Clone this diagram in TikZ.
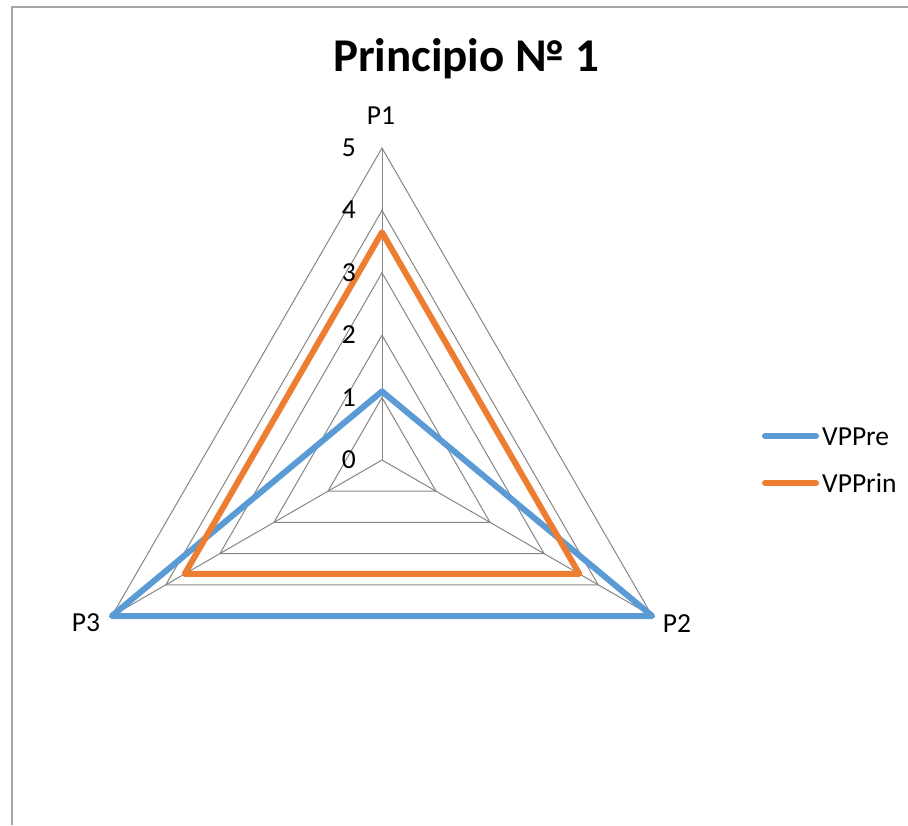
\documentclass[tikz,border=0pt]{standalone}
\usepackage{fontspec}
\setmainfont{Carlito}
\usetikzlibrary{calc}
\definecolor{gridc}{HTML}{868686}
\definecolor{framec}{HTML}{A6A6A6}
\definecolor{vpre}{HTML}{5B9BD5}
\definecolor{vprin}{HTML}{ED7D31}
\begin{document}
\begin{tikzpicture}[x=1pt,y=1pt,
  gridline/.style={draw=gridc,line width=1pt},
  frameline/.style={draw=framec,line width=1.6pt},
  series/.style={line width=6pt,line join=round,line cap=round},
  lbl/.style={font=\fontsize{27.5}{32}\selectfont,inner sep=0pt,anchor=base},
  numlbl/.style={font=\fontsize{27.5}{32}\selectfont,inner sep=0pt,anchor=base east},
  titlelbl/.style={font=\bfseries\fontsize{47}{56}\selectfont,inner sep=0pt,anchor=base}]
\useasboundingbox (0,0) rectangle (908,-825);
\fill[white] (0,0) rectangle (908,-825);
% frame (only left and top visible)
\coordinate (fbl) at (12,-825);
\coordinate (ftl) at (12,-7);
\coordinate (ftr) at (908,-7);
\draw[frameline] (fbl) -- (ftl) -- (ftr);
% title
\node[titlelbl] (title) at (466,-71) {Principio № 1};
\def\u{62.4}
\begin{scope}[shift={(382,-460)}]
  \coordinate (O) at (0,0);
  \coordinate (A1) at (90:5*\u);
  \coordinate (A2) at (-30:5*\u);
  \coordinate (A3) at (210:5*\u);
  \foreach \k in {1,...,5}{
    \draw[gridline] (90:\k*\u) -- (-30:\k*\u) -- (210:\k*\u) -- cycle;
  }
  \draw[gridline] (O) -- (A1);
  \draw[gridline] (O) -- (A2);
  \draw[gridline] (O) -- (A3);
  % series
  \coordinate (b1) at (90:1.1*\u);
  \coordinate (b2) at (-30:5*\u);
  \coordinate (b3) at (210:5*\u);
  \coordinate (o1) at (90:3.65*\u);
  \coordinate (o2) at (-30:3.65*\u);
  \coordinate (o3) at (210:3.65*\u);
  \draw[series,vpre] (b1) -- (b2) -- (b3) -- cycle;
  \draw[series,vprin] (o1) -- (o2) -- (o3) -- cycle;
\end{scope}
% axis value labels
\foreach \k in {0,...,5}{
  \node[numlbl] (n\k) at (356,{-(460-\k*\u+8.5)}) {\k};
}
% axis names
\node[lbl] (p1) at (381,-124) {P1};
\node[lbl] (p2) at (677,-632) {P2};
\node[lbl] (p3) at (86,-631) {P3};
% legend
\coordinate (l1a) at (765,-436);
\coordinate (l1b) at (816,-436);
\coordinate (l2a) at (765,-483);
\coordinate (l2b) at (816,-483);
\draw[series,vpre] (l1a) -- (l1b);
\draw[series,vprin] (l2a) -- (l2b);
\node[lbl,anchor=base west] (leg1) at (822,-445.5) {VPPre};
\node[lbl,anchor=base west] (leg2) at (822,-492.5) {VPPrin};
\end{tikzpicture}
\end{document}
